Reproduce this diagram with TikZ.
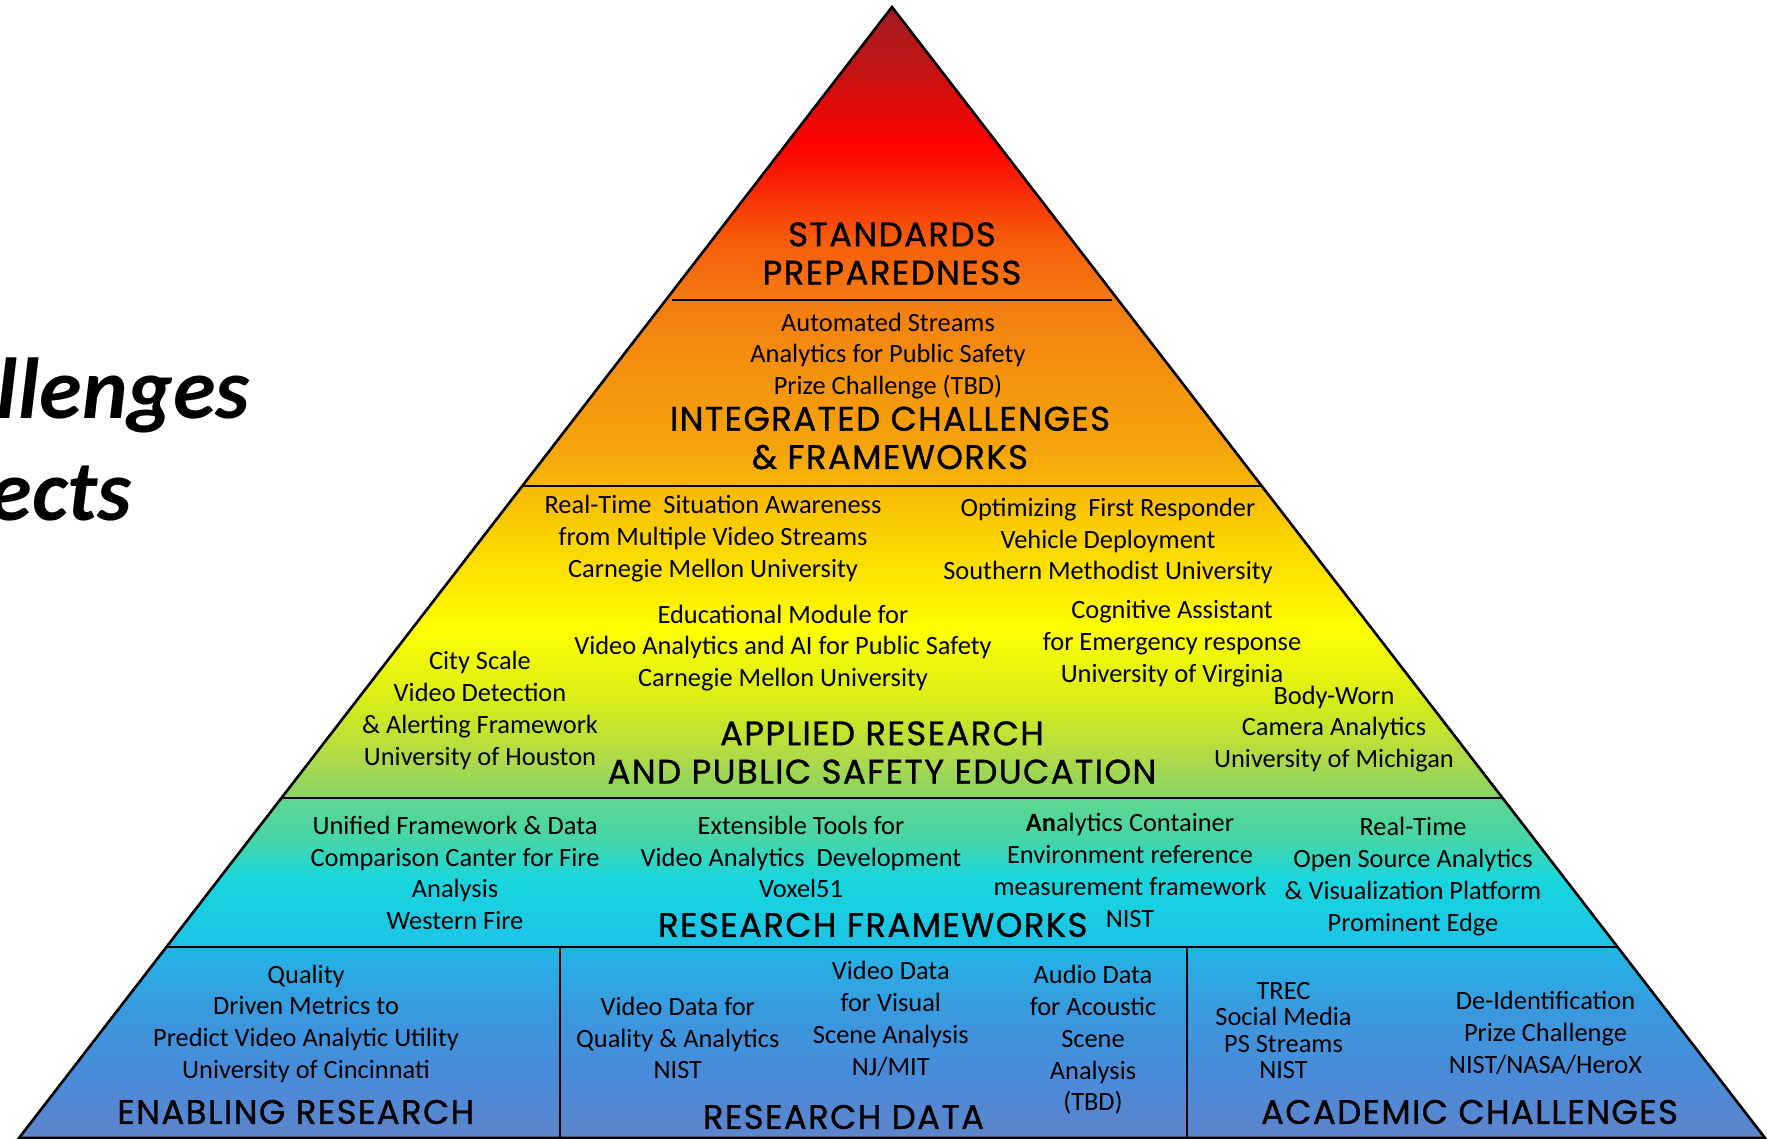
\documentclass[tikz,border=0pt]{standalone}
\usepackage{fontspec}
\setmainfont{Carlito}
\newfontfamily\headfont{Poppins}[FakeBold=0.9, LetterSpace=4]
\usetikzlibrary{calc}

% vertical colour ramp of the pyramid, from apex to base
\definecolor{g0}{HTML}{9E1C22}
\definecolor{g1}{HTML}{C41414}
\definecolor{g2}{HTML}{FF0000}
\definecolor{g3}{HTML}{F82A05}
\definecolor{g4}{HTML}{F75A0A}
\definecolor{g5}{HTML}{F37C12}
\definecolor{g6}{HTML}{F4940E}
\definecolor{g7}{HTML}{F5A40C}
\definecolor{g8}{HTML}{F7B808}
\definecolor{g9}{HTML}{FAD000}
\definecolor{g10}{HTML}{FDF000}
\definecolor{g11}{HTML}{FFFF00}
\definecolor{g12}{HTML}{D8EC18}
\definecolor{g13}{HTML}{A6D850}
\definecolor{g14}{HTML}{86D266}
\definecolor{g15}{HTML}{60D690}
\definecolor{g16}{HTML}{45D6A8}
\definecolor{g17}{HTML}{18D6DE}
\definecolor{g18}{HTML}{1CC4E6}
\definecolor{g19}{HTML}{22B6E6}
\definecolor{g20}{HTML}{3A98DE}
\definecolor{g21}{HTML}{4A8AD8}
\definecolor{g22}{HTML}{5E84CA}

\tikzset{
  body/.style={font=\fontsize{26.4}{31.8}\selectfont, align=center, inner sep=0pt},
  tightbody/.style={font=\fontsize{26.4}{26.5}\selectfont, align=center, inner sep=0pt},
  head/.style={font=\headfont\fontsize{34}{38.3}\selectfont, align=center, inner sep=0pt},
  side/.style={font=\bfseries\itshape\fontsize{86.5}{100}\selectfont, inner sep=0pt, anchor=base east},
  outline/.style={line width=2.6pt, line join=miter},
  divider/.style={line width=2.4pt},
}

\begin{document}
\begin{tikzpicture}[x=1pt,y=-1pt]
  \fill[white] (0,0) rectangle (1767,1139);
  \useasboundingbox (0,0) rectangle (1767,1139);

  % corners of the pyramid
  \coordinate (apex) at (892,7);
  \coordinate (bl) at (19,1138);
  \coordinate (br) at (1765,1138);

  % band boundaries on both slanted sides
  \coordinate (l1) at ($(apex)!0.2591!(bl)$);
  \coordinate (r1) at ($(apex)!0.2591!(br)$);
  \coordinate (l2) at ($(apex)!0.4235!(bl)$);
  \coordinate (r2) at ($(apex)!0.4235!(br)$);
  \coordinate (l3) at ($(apex)!0.6994!(bl)$);
  \coordinate (r3) at ($(apex)!0.6994!(br)$);
  \coordinate (l4) at ($(apex)!0.8311!(bl)$);
  \coordinate (r4) at ($(apex)!0.8311!(br)$);

  % gradient fill
  \begin{scope}
    \clip (apex) -- (bl) -- (br) -- cycle;
    \foreach \ya/\yb/\ca/\cb in {
        0/70/g0/g1, 70/143/g1/g2, 143/190/g2/g3, 190/237/g3/g4,
        237/300/g4/g5, 300/380/g5/g6, 380/450/g6/g7, 450/486/g7/g8,
        486/533/g8/g9, 533/600/g9/g10, 600/627/g10/g11, 627/700/g11/g12,
        700/767/g12/g13, 767/798/g13/g14, 798/840/g15/g16, 840/880/g16/g17,
        880/940/g17/g18, 940/947/g18/g18, 947/1013/g19/g20, 1013/1080/g20/g21,
        1080/1140/g21/g22}
      \shade[top color=\ca, bottom color=\cb] (0,\ya-0.6) rectangle (1767,\yb+0.6);
  \end{scope}

  % band separators
  \draw[divider] ($(l1)+(6,0)$) -- ($(r1)+(-6,0)$);
  \draw[divider] (l2) -- (r2);
  \draw[divider] (l3) -- (r3);
  \draw[divider] (l4) -- (r4);
  \coordinate (d1t) at (560,947);
  \coordinate (d1b) at (560,1138);
  \coordinate (d2t) at (1187,947);
  \coordinate (d2b) at (1187,1138);
  \draw[divider] (d1t) -- (d1b);
  \draw[divider] (d2t) -- (d2b);

  % outline
  \draw[outline] (apex) -- (bl) -- (br) -- cycle;

  % side caption
  \node[side] (chal) at (250,418) {llenges};
  \node[side] (proj) at (132,520.6) {ects};

  % top band
  \node[head] (std) at (892,253.5) {STANDARDS\\PREPAREDNESS};

  % second band
  \node[body] (auto) at (888,356) {Automated Streams\\Analytics for Public Safety\\Prize Challenge (TBD)};
  \node[head] (integ) at (890,438) {INTEGRATED CHALLENGES\\\& FRAMEWORKS};

  % third band
  \node[body] (rt) at (713,538.4) {Real-Time\ \ Situation Awareness\\from Multiple Video Streams\\Carnegie Mellon University};
  \node[body] (opt) at (1108,541) {Optimizing\ \ First Responder\\Vehicle Deployment\\Southern Methodist University};
  \node[body] (edu) at (783,648) {Educational Module for\\Video Analytics and AI for Public Safety\\Carnegie Mellon University};
  \node[body] (cog) at (1172,643.4) {Cognitive Assistant\\for Emergency response\\University of Virginia};
  \node[body] (city) at (480,710.4) {City Scale\\Video Detection\\\& Alerting Framework\\University of Houston};
  \node[body] (bwc) at (1334,729) {Body-Worn\\Camera Analytics\\University of Michigan};
  \node[head] (applied) at (882,752.5) {APPLIED RESEARCH\\AND PUBLIC SAFETY EDUCATION};

  % fourth band
  \node[body] (unified) at (455,873) {Unified Framework \& Data\\Comparison Canter for Fire\\Analysis\\Western Fire};
  \node[body] (ext) at (801,857) {Extensible Tools for\\Video Analytics\ \ Development\\Voxel51};
  \node[body] (ace) at (1130,870.3) {\textbf{An}alytics Container\\Environment reference\\measurement framework\\NIST};
  \node[body] (open) at (1413,876.4) {Real-Time\\Open Source Analytics\\\& Visualization Platform\\Prominent Edge};
  \node[head] (rf) at (872.8,925) {RESEARCH FRAMEWORKS};

  % base band
  \node[body] (qual) at (306,1023.8) {Quality\\Driven Metrics to\\Predict Video Analytic Utility\\University of Cincinnati};
  \node[head] (enab) at (295.8,1112) {ENABLING RESEARCH};
  \node[body] (vdq) at (677.8,1038) {Video Data for\\Quality \& Analytics\\NIST};
  \node[body] (vdv) at (890.8,1018.7) {Video Data\\for Visual\\Scene Analysis\\NJ/MIT};
  \node[body] (audio) at (1093,1040) {Audio Data\\for Acoustic\\Scene\\Analysis\\(TBD)};
  \node[head] (rd) at (843.5,1117) {RESEARCH DATA};
  \node[tightbody] (trec) at (1283.5,1030.4) {TREC\\Social Media\\PS Streams\\NIST};
  \node[body] (deid) at (1545.5,1032.8) {De-Identification\\Prize Challenge\\NIST/NASA/HeroX};
  \node[head] (acad) at (1469.5,1112) {ACADEMIC CHALLENGES};
\end{tikzpicture}
\end{document}
